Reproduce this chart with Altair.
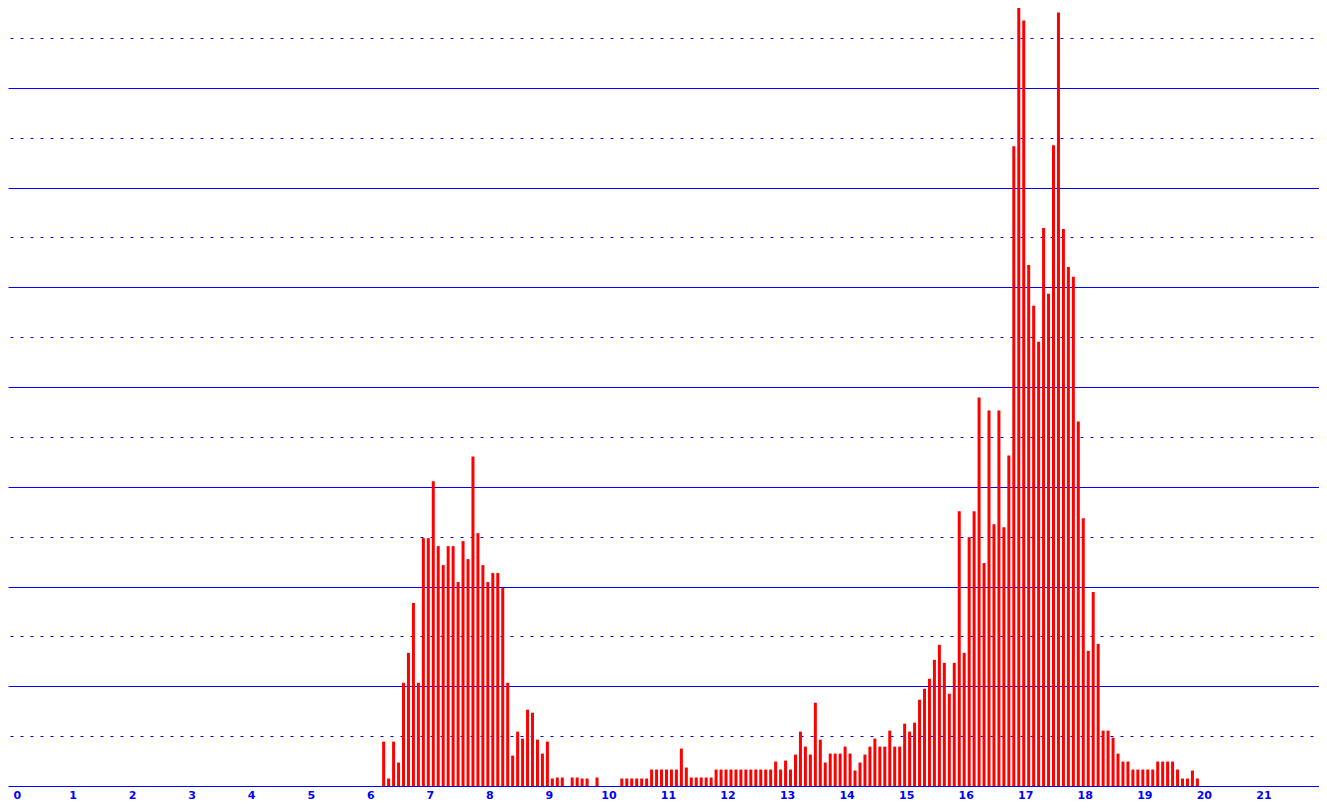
import altair as alt
import pandas as pd

# Bar heights (one bar per 1/12 unit bin, starting near 6.22)
X_START = 6.225
BIN = 1.0 / 12.0
heights = [
    0.89, 0.15, 0.89, 0.47, 2.07, 2.67, 3.67, 2.07, 4.97, 4.97,
    6.11, 4.81, 4.43, 4.81, 4.81, 4.09, 4.91, 4.55, 6.61, 5.07,
    4.43, 4.09, 4.27, 4.27, 3.97, 2.07, 0.61, 1.09, 0.95, 1.53,
    1.47, 0.93, 0.65, 0.89, 0.15, 0.17, 0.17, 0.00, 0.17, 0.17,
    0.15, 0.15, 0.00, 0.17, 0.00, 0.00, 0.00, 0.00, 0.15, 0.15,
    0.15, 0.15, 0.15, 0.15, 0.33, 0.33, 0.33, 0.33, 0.33, 0.33,
    0.75, 0.37, 0.17, 0.17, 0.17, 0.17, 0.17, 0.33, 0.33, 0.33,
    0.33, 0.33, 0.33, 0.33, 0.33, 0.33, 0.33, 0.33, 0.33, 0.49,
    0.33, 0.51, 0.33, 0.63, 1.09, 0.79, 0.63, 1.67, 0.93, 0.47,
    0.65, 0.65, 0.65, 0.79, 0.65, 0.31, 0.47, 0.63, 0.79, 0.95,
    0.79, 0.79, 1.11, 0.79, 0.79, 1.25, 1.09, 1.27, 1.73, 1.95,
    2.15, 2.53, 2.83, 2.47, 1.85, 2.47, 5.51, 2.67, 4.99, 5.51,
    7.79, 4.47, 7.53, 5.25, 7.53, 5.19, 6.63, 12.83, 15.73, 15.35,
    10.45, 9.63, 8.91, 11.19, 9.87, 12.85, 15.51, 11.17, 10.41, 10.21,
    7.31, 5.37, 2.71, 3.89, 2.85, 1.11, 1.11, 0.97, 0.65, 0.49,
    0.49, 0.33, 0.33, 0.33, 0.33, 0.33, 0.49, 0.49, 0.49, 0.49,
    0.33, 0.15, 0.15, 0.31, 0.15,
]
x_ticks = list(range(0, 22))
grid_levels = list(range(1, 16))

df = pd.DataFrame({
    "x": [X_START + i * BIN for i in range(len(heights))],
    "h": heights,
})
df = df[df["h"] > 0]

W = 1311
H = 778
UNIT = (H - 30) / 15.0   # pixels per grid step

chart = alt.Chart(df).mark_bar(size=3, color="#ff0000", clip=True).encode(
    x=alt.X(
        "x:Q",
        scale=alt.Scale(domain=[0, W / 60.0], nice=False, zero=False),
        axis=alt.Axis(
            values=x_ticks, title=None, grid=False, ticks=False,
            domainColor="#0000ff", domainWidth=1,
            labelColor="#0000ff", labelFont="DejaVu Sans", labelFontSize=11,
            labelFontWeight="bold",
            labelPadding=12, labelOverlap=False, labelBaseline="alphabetic",
            labelAlign=alt.ExprRef(expr="datum.value == 0 ? 'left' : 'center'"),
        ),
    ),
    y=alt.Y(
        "h:Q",
        scale=alt.Scale(domain=[0, H / UNIT], nice=False),
        axis=alt.Axis(
            values=grid_levels, title=None, labels=False, ticks=False,
            domain=False, grid=True, gridColor="#0000ff", gridWidth=1,
            gridOpacity=1,
            gridDash={"condition": {"test": "datum.value % 2 == 1", "value": [3, 7]}, "value": []},
            gridDashOffset=8,
        ),
    ),
).properties(
    width=W, height=H,
    autosize=alt.AutoSizeParams(type="none"),
    padding={"left": 0, "top": 0, "right": 0, "bottom": 16},
    background="white",
).configure_view(stroke=None)

chart.save("out.html", embed_options={"renderer": "svg", "actions": False})
